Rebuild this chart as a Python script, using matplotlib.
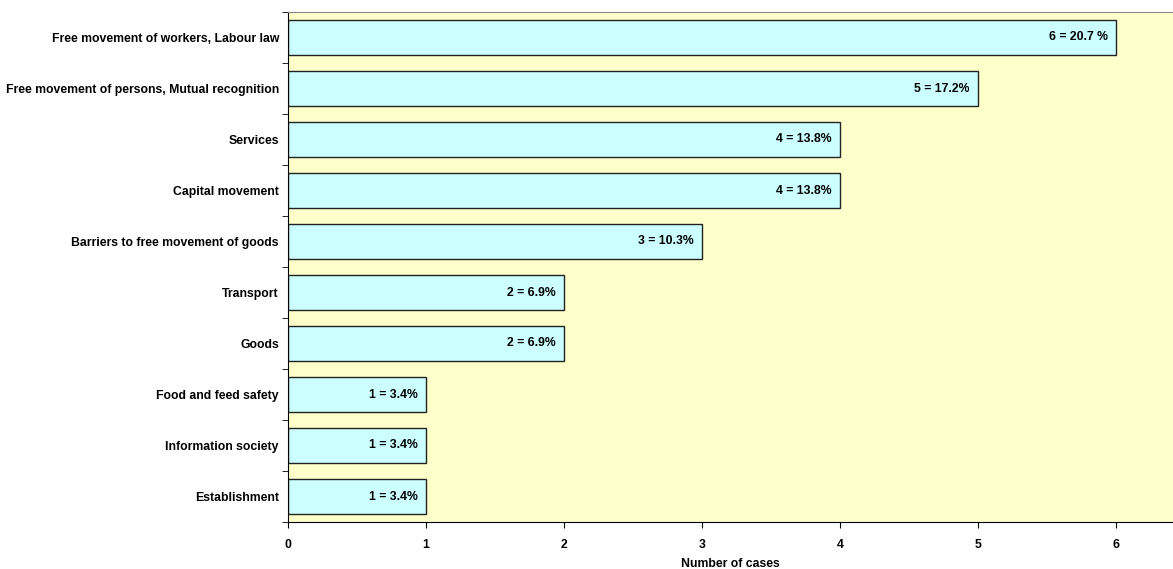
import matplotlib.pyplot as plt
from matplotlib.ticker import FixedLocator

plt.rcParams['font.family'] = ['Liberation Sans', 'DejaVu Sans']

categories = ["Free movement of workers, Labour law",
              "Free movement of persons, Mutual recognition",
              "Services",
              "Capital movement",
              "Barriers to free movement of goods",
              "Transport",
              "Goods",
              "Food and feed safety",
              "Information society",
              "Establishment"]
cases = [6, 5, 4, 4, 3, 2, 2, 1, 1, 1]
labels = ["6 = 20.7 %", "5 = 17.2%", "4 = 13.8%", "4 = 13.8%", "3 = 10.3%",
          "2 = 6.9%", "2 = 6.9%", "1 = 3.4%", "1 = 3.4%", "1 = 3.4%"]

fs = 8.8

fig = plt.figure(figsize=(11.73, 5.69), dpi=100)
ax = fig.add_axes([288 / 1173, 1 - 522 / 569, 1 - 288 / 1173, 510 / 569])
ax.set_facecolor("#FFFFCC")

n = len(categories)
ypos = list(range(n))
ax.barh(ypos, cases, height=0.67, color="#CCFFFF", edgecolor="#222222", linewidth=1)
for y, v, lab in zip(ypos, cases, labels):
    ax.annotate(lab, (v, y), xytext=(-6, 0), textcoords="offset points",
                ha="right", va="center", fontsize=fs, fontweight="bold")

ax.set_ylim(n - 0.5, -0.5)
ax.set_xlim(0, 885 / 138)
ax.set_yticks(ypos)
ax.set_yticklabels(categories, fontsize=fs, fontweight="bold")
ax.tick_params(axis="y", which="major", length=0, pad=6.5)
ax.yaxis.set_minor_locator(FixedLocator([i - 0.5 for i in range(n + 1)]))
ax.tick_params(axis="y", which="minor", length=4, direction="out")
ax.set_xticks(range(7))
ax.tick_params(axis="x", length=4, direction="out", pad=8, labelsize=fs)
for t in ax.get_xticklabels():
    t.set_fontweight("bold")
ax.set_xlabel("Number of cases", fontsize=fs, fontweight="bold", labelpad=5)

ax.spines["top"].set_color("#888888")
ax.spines["right"].set_visible(False)
ax.spines["left"].set_color("black")
ax.spines["bottom"].set_color("black")

fig.savefig("out.png", dpi=100)
